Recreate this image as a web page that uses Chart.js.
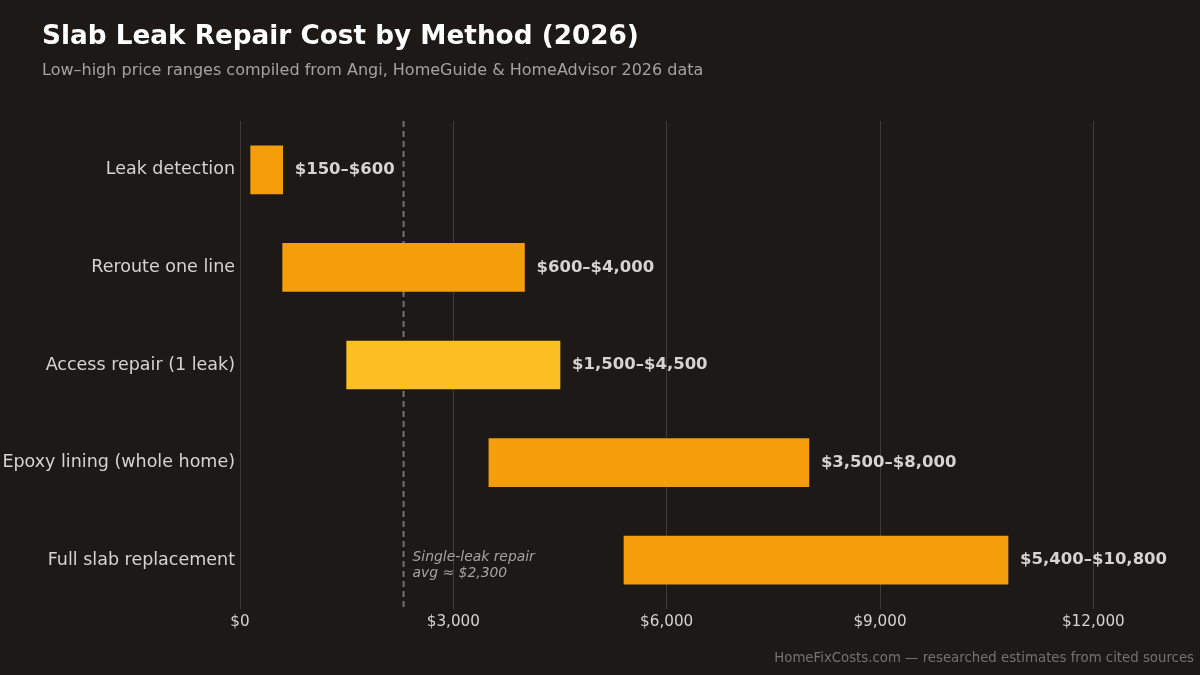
<!DOCTYPE html>
<html><head><meta charset="utf-8">
<script src="https://cdn.jsdelivr.net/npm/chart.js@4/dist/chart.umd.min.js"></script>
<style>
html,body{margin:0;padding:0;background:#1c1917;width:1200px;height:675px;overflow:hidden;font-family:"DejaVu Sans",sans-serif;}
#wrap{position:absolute;left:0;top:0;width:1200px;height:675px;}
#title{position:absolute;left:42px;top:19px;font-size:26.3px;font-weight:bold;color:#ffffff;white-space:nowrap;line-height:32px;}
#sub{position:absolute;left:42px;top:60px;font-size:16px;color:#a8a29e;white-space:nowrap;line-height:20px;}
#foot{position:absolute;right:6px;top:649px;font-size:13.3px;color:#78716c;white-space:nowrap;line-height:18px;}
</style></head>
<body>
<div id="wrap"><canvas id="c" width="1200" height="675"></canvas></div>
<div id="title">Slab Leak Repair Cost by Method (2026)</div>
<div id="sub">Low–high price ranges compiled from Angi, HomeGuide &amp; HomeAdvisor 2026 data</div>
<div id="foot">HomeFixCosts.com — researched estimates from cited sources</div>
<script>
const categories = ["Leak detection","Reroute one line","Access repair (1 leak)","Epoxy lining (whole home)","Full slab replacement"];
const lowValues = [150, 600, 1500, 3500, 5400];
const highValues = [600, 4000, 4500, 8000, 10800];
const rangeLabels = ["$150–$600","$600–$4,000","$1,500–$4,500","$3,500–$8,000","$5,400–$10,800"];
const highlightIndex = 2;
const xTickValues = [0, 3000, 6000, 9000, 12000];
const xMax = 13500;
const avgValue = 2300;
const avgLabel = ["Single-leak repair", "avg ≈ $2,300"];

const FONT = '"DejaVu Sans", sans-serif';
const barColors = categories.map((_, i) => i === highlightIndex ? '#fbbf24' : '#f59e0b');

const overlay = {
  id: 'overlay',
  beforeDatasetsDraw(chart) {
    const ctx = chart.ctx, xs = chart.scales.x, area = chart.chartArea;
    const ax = xs.getPixelForValue(avgValue);
    ctx.save();
    ctx.strokeStyle = '#78716c';
    ctx.lineWidth = 2;
    ctx.setLineDash([6, 4]);
    ctx.beginPath();
    ctx.moveTo(ax, area.top);
    ctx.lineTo(ax, area.bottom);
    ctx.stroke();
    ctx.restore();
  },
  afterDatasetsDraw(chart) {
    const ctx = chart.ctx, xs = chart.scales.x, ys = chart.scales.y;
    const ax = xs.getPixelForValue(avgValue);
    ctx.save();
    ctx.font = 'italic 13.9px ' + FONT;
    ctx.fillStyle = '#a8a29e';
    ctx.textAlign = 'left';
    ctx.textBaseline = 'middle';
    const yLast = ys.getPixelForValue(categories.length - 1);
    ctx.fillText(avgLabel[0], ax + 9, yLast - 3);
    ctx.fillText(avgLabel[1], ax + 9, yLast + 13);
    ctx.font = 'bold 16.5px ' + FONT;
    ctx.fillStyle = '#d6d3d1';
    const meta = chart.getDatasetMeta(0);
    meta.data.forEach((bar, i) => {
      ctx.fillText(rangeLabels[i], xs.getPixelForValue(highValues[i]) + 12, bar.y);
    });
    ctx.restore();
  }
};

new Chart(document.getElementById('c'), {
  type: 'bar',
  data: {
    labels: categories,
    datasets: [{
      data: categories.map((_, i) => [lowValues[i], highValues[i]]),
      backgroundColor: barColors,
      borderWidth: 0,
      borderSkipped: false,
      barThickness: 48
    }]
  },
  options: {
    indexAxis: 'y',
    responsive: false,
    animation: false,
    layout: { padding: { top: 121, right: 0, bottom: 26, left: 0 } },
    plugins: { legend: { display: false }, tooltip: { enabled: false }, title: { display: false } },
    scales: {
      x: {
        min: 0, max: xMax,
        afterBuildTicks(s) { s.ticks = xTickValues.map(v => ({ value: v })); },
        afterFit(s) { s.height = 40; },
        grid: { color: '#3f3a36', lineWidth: 1, drawTicks: false },
        border: { display: false },
        ticks: {
          color: '#d6d3d1', font: { family: FONT, size: 15.2 }, padding: 4,
          callback: v => '$' + Number(v).toLocaleString('en-US')
        }
      },
      y: {
        afterFit(s) { s.width = 240; },
        grid: { display: false, drawTicks: false },
        border: { display: false },
        ticks: { color: '#d6d3d1', font: { family: FONT, size: 17.5 }, padding: 5 }
      }
    }
  },
  plugins: [overlay]
});
</script>
</body></html>
